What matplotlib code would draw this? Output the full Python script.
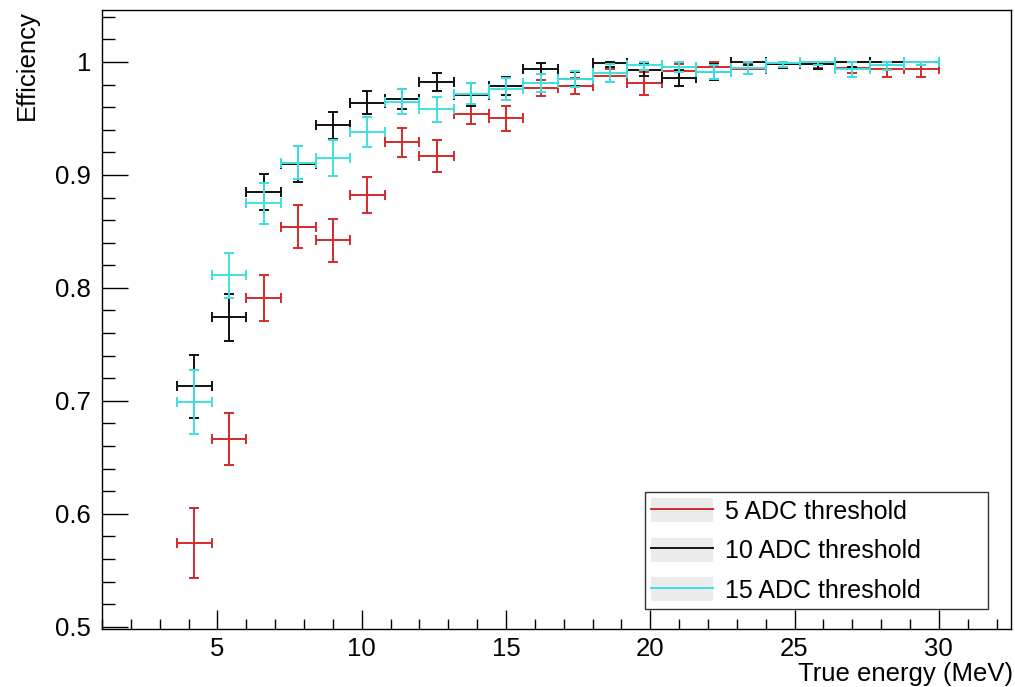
import matplotlib
matplotlib.use("Agg")
import matplotlib.pyplot as plt
import numpy as np
from matplotlib.patches import Patch
from matplotlib.lines import Line2D
from matplotlib.ticker import MultipleLocator

plt.rcParams['font.family'] = ['Liberation Sans', 'DejaVu Sans']

# bin centres (MeV), bin half width 0.6
energy = [4.2, 5.4, 6.6, 7.8, 9.0, 10.2, 11.4, 12.6, 13.8, 15.0, 16.2,
          17.4, 18.6, 19.8, 21.0, 22.2, 23.4, 24.6, 25.8, 27.0, 28.2, 29.4]
half_width = 0.6

eff_5adc = [0.574, 0.666, 0.791, 0.854, 0.842, 0.882, 0.929, 0.917, 0.954, 0.950, 0.977,
            0.979, 0.988, 0.981, 0.992, 0.996, 0.994, 0.998, 0.998, 0.995, 0.994, 0.994]
err_5adc = [0.031, 0.023, 0.020, 0.019, 0.019, 0.016, 0.013, 0.014, 0.009, 0.011, 0.007,
            0.007, 0.006, 0.010, 0.006, 0.005, 0.005, 0.003, 0.003, 0.005, 0.007, 0.007]

eff_10adc = [0.713, 0.774, 0.885, 0.910, 0.944, 0.964, 0.967, 0.982, 0.971, 0.979, 0.994,
             0.985, 0.999, 0.993, 0.986, 0.991, 1.000, 0.998, 0.998, 1.000, 1.000, 1.000]
err_10adc = [0.028, 0.021, 0.016, 0.016, 0.012, 0.010, 0.009, 0.008, 0.010, 0.008, 0.005,
             0.006, 0.003, 0.005, 0.007, 0.007, 0.003, 0.003, 0.004, 0.004, 0.003, 0.003]

eff_15adc = [0.699, 0.811, 0.875, 0.911, 0.915, 0.938, 0.965, 0.958, 0.972, 0.976, 0.981,
             0.985, 0.990, 0.997, 0.996, 0.991, 0.995, 0.999, 1.000, 0.994, 0.997, 1.000]
err_15adc = [0.028, 0.020, 0.018, 0.015, 0.016, 0.013, 0.011, 0.011, 0.009, 0.010, 0.008,
             0.007, 0.008, 0.004, 0.005, 0.006, 0.006, 0.003, 0.003, 0.007, 0.004, 0.003]

labels = ["5 ADC threshold", "10 ADC threshold", "15 ADC threshold"]
colors = ["#d42a2a", "#111111", "#3fe0e0"]

fig = plt.figure(figsize=(10.15, 6.87), dpi=100)
ax = fig.add_axes([0.1005, 0.0844, 0.8955, 0.901])

for eff, err, col in zip([eff_5adc, eff_10adc, eff_15adc],
                         [err_5adc, err_10adc, err_15adc], colors):
    eff = np.array(eff)
    err = np.array(err)
    # efficiency errors can't go above 1
    upper = np.minimum(err, np.maximum(1.0 - eff, 0.0))
    ax.errorbar(energy, eff, xerr=half_width, yerr=[err, upper], fmt='none',
                ecolor=col, elinewidth=1.4, capsize=3.5, capthick=1.4)

ax.set_xlim(1, 32.5)
ax.set_ylim(0.498, 1.046)

ax.xaxis.set_minor_locator(MultipleLocator(1))
ax.yaxis.set_minor_locator(MultipleLocator(0.02))
ax.set_xticks([5, 10, 15, 20, 25, 30])
ax.set_yticks([0.5, 0.6, 0.7, 0.8, 0.9, 1.0])
ax.set_yticklabels(["0.5", "0.6", "0.7", "0.8", "0.9", "1"])

ax.tick_params(axis='both', which='both', direction='in', top=False, right=False,
               labelsize=18.5, color='black', width=1.0)
ax.tick_params(axis='x', which='major', length=13.7, pad=6)
ax.tick_params(axis='x', which='minor', length=7.2)
ax.tick_params(axis='y', which='major', length=18.7, pad=8)
ax.tick_params(axis='y', which='minor', length=9.4)
for sp in ax.spines.values():
    sp.set_linewidth(1.0)

ax.set_xlabel("True energy (MeV)", fontsize=18.5, loc='right')
ax.set_ylabel("Efficiency", fontsize=18.5, loc='top')
ax.xaxis.set_label_coords(1.002, -0.053)
ax.yaxis.set_label_coords(-0.07, 1.0)

handles = [(Patch(facecolor='#ebebeb', edgecolor='none'),
            Line2D([], [], color=c, lw=1.4)) for c in colors]
leg = ax.legend(handles, labels, loc='lower left',
                bbox_to_anchor=(0.597, 0.032, 0.378, 0.189), mode='expand',
                borderaxespad=0, fontsize=18, frameon=True, fancybox=False,
                edgecolor='black', handlelength=2.5, handleheight=1.1,
                labelspacing=0.56, handletextpad=0.45, borderpad=0.25)
leg.get_frame().set_linewidth(1.0)

fig.savefig("out.png", dpi=100)
